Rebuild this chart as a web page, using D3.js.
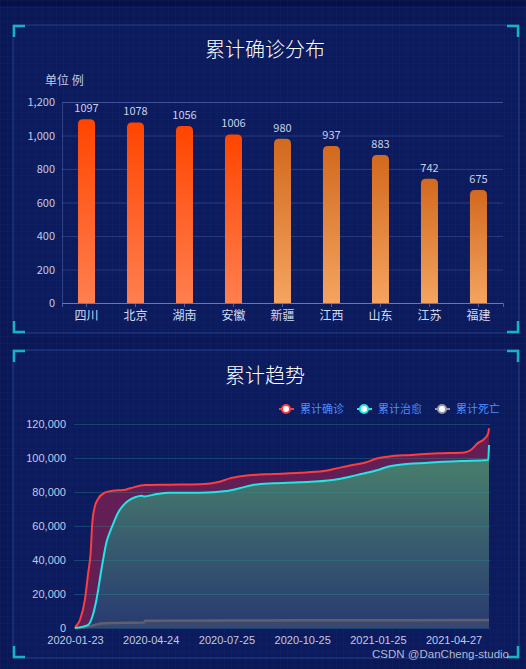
<!DOCTYPE html>
<html>
<head>
<meta charset="utf-8">
<script src="https://cdn.jsdelivr.net/npm/d3@7"></script>
<style>
  body { margin: 0; background: #0a1856; overflow: hidden; }
  svg { display: block; }
  text { font-family: "Noto Sans CJK SC", "Noto Sans", sans-serif; }
  .num text, text.num { font-family: "Liberation Sans", Arial, sans-serif; }
</style>
</head>
<body>
<svg id="canvas" width="526" height="669"></svg>
<script>
"use strict"

// bar chart data
const provinces = ["四川", "北京", "湖南", "安徽", "新疆", "江西", "山东", "江苏", "福建"]
const provinceTotals = [1097, 1078, 1056, 1006, 980, 937, 883, 742, 675]
const barTicks = [0, 200, 400, 600, 800, 1000, 1200]

// trend data
const confirmedSeries = [
  ["2020-01-23", 0], ["2020-01-24", 800], ["2020-01-29", 4700], ["2020-02-04", 16500],
  ["2020-02-08", 32400], ["2020-02-11", 44100], ["2020-02-13", 61800], ["2020-02-16", 71300],
  ["2020-02-20", 75900], ["2020-02-28", 79600], ["2020-03-09", 80800], ["2020-03-22", 81200],
  ["2020-03-30", 82200], ["2020-04-17", 84100], ["2020-05-17", 84300], ["2020-06-23", 84500],
  ["2020-07-17", 86000], ["2020-07-29", 88000], ["2020-08-14", 89400], ["2020-09-20", 90600],
  ["2020-10-22", 91300], ["2020-11-20", 92300], ["2020-12-06", 93900], ["2020-12-22", 95600],
  ["2021-01-09", 97200], ["2021-01-25", 99800], ["2021-02-06", 100800], ["2021-03-07", 101800],
  ["2021-04-08", 102800], ["2021-05-10", 103300], ["2021-05-18", 104700], ["2021-05-26", 108600],
  ["2021-06-04", 111600], ["2021-06-08", 114500], ["2021-06-09", 117500]
]
const curedSeries = [
  ["2020-01-23", 0], ["2020-02-02", 800], ["2020-02-08", 1800], ["2020-02-13", 6600],
  ["2020-02-18", 16500], ["2020-02-24", 34100], ["2020-03-01", 50000], ["2020-03-08", 59600],
  ["2020-03-16", 68400], ["2020-03-26", 74300], ["2020-04-05", 76900], ["2020-04-13", 77800],
  ["2020-04-16", 77400], ["2020-05-01", 78800], ["2020-05-17", 79600], ["2020-06-23", 79600],
  ["2020-07-25", 80600], ["2020-08-10", 82200], ["2020-08-26", 84100], ["2020-09-20", 85100],
  ["2020-10-22", 85700], ["2020-12-01", 87100], ["2020-12-22", 89000], ["2021-01-05", 90600],
  ["2021-01-25", 92900], ["2021-02-06", 94900], ["2021-02-18", 95900], ["2021-03-27", 97200],
  ["2021-05-06", 98200], ["2021-06-08", 98800], ["2021-06-09", 107600]
]
const deathSeries = [
  ["2020-01-23", 0], ["2020-02-02", 300], ["2020-02-13", 1400], ["2020-02-24", 2600],
  ["2020-03-08", 3000], ["2020-04-16", 3200], ["2020-04-17", 4300], ["2020-10-22", 4500],
  ["2021-06-09", 4700]
]
const trendTicks = [0, 20000, 40000, 60000, 80000, 100000, 120000]
const trendDateTicks = ["2020-01-23", "2020-04-24", "2020-07-25", "2020-10-25", "2021-01-25", "2021-04-27"]
const legendNames = ["累计确诊", "累计治愈", "累计死亡"]
const legendColors = ["#ff3d3d", "#20e6e6", "#9a9aa6"]

const svg = d3.select("#canvas")
const defs = svg.append("defs")

// background texture
const pat = defs.append("pattern").attr("id", "grid")
  .attr("width", 7).attr("height", 7).attr("patternUnits", "userSpaceOnUse")
pat.append("path").attr("d", "M7 0H0V7").attr("fill", "none")
  .attr("stroke", "rgba(120,150,230,0.06)").attr("stroke-width", 1)

function vgrad(id, top, bottom, units, y1, y2) {
  const g = defs.append("linearGradient").attr("id", id)
    .attr("x1", 0).attr("x2", 0).attr("y1", y1 ?? 0).attr("y2", y2 ?? 1)
  if (units) g.attr("gradientUnits", units)
  g.append("stop").attr("offset", 0).attr("stop-color", top)
  g.append("stop").attr("offset", 1).attr("stop-color", bottom)
}
vgrad("hot", "#ff4500", "#ff7f50")
vgrad("warm", "#d2691e", "#f4a460")
vgrad("curedFill", "#467a6c", "#283a70", "userSpaceOnUse", 470, 628)

svg.append("rect").attr("width", 526).attr("height", 669).attr("fill", "#0a1858")
svg.append("rect").attr("width", 526).attr("height", 6).attr("fill", "#061045")
svg.append("rect").attr("width", 526).attr("height", 669).attr("fill", "url(#grid)")

// panels with cyan corners
function panel(x0, y0, x1, y1) {
  svg.append("rect").attr("x", x0).attr("y", y0).attr("width", x1 - x0).attr("height", y1 - y0)
    .attr("fill", "rgba(20,40,120,0.22)").attr("stroke", "rgba(70,110,190,0.45)")
  const c = 11
  const corners = [
    `M${x0 + 1} ${y0 + 1 + c}V${y0 + 1}H${x0 + 1 + c}`,
    `M${x1 - 1 - c} ${y0 + 1}H${x1 - 1}V${y0 + 1 + c}`,
    `M${x0 + 1} ${y1 - 1 - c}V${y1 - 1}H${x0 + 1 + c}`,
    `M${x1 - 1 - c} ${y1 - 1}H${x1 - 1}V${y1 - 1 - c}`
  ]
  corners.forEach(d => svg.append("path").attr("d", d).attr("fill", "none")
    .attr("stroke", "#15b4c4").attr("stroke-width", 2.5))
}
panel(13, 25, 519, 333)
panel(13, 350, 519, 658)

svg.append("text").attr("x", 265).attr("y", 57).attr("text-anchor", "middle")
  .attr("fill", "#fff").attr("font-size", 20).attr("font-weight", 300).text("累计确诊分布")
svg.append("text").attr("x", 265).attr("y", 383).attr("text-anchor", "middle")
  .attr("fill", "#fff").attr("font-size", 20).attr("font-weight", 300).text("累计趋势")

// ---- bar chart ----
const x1 = d3.scaleBand().domain(provinces).range([62, 503]).paddingInner(0.653).paddingOuter(0.327)
const y1 = d3.scaleLinear().domain([0, 1200]).range([303, 102])

svg.append("text").attr("x", 45).attr("y", 85).attr("fill", "#c3cae2")
  .attr("font-size", 12).text("单位 例")

const yAxis1 = svg.append("g").attr("transform", "translate(62,0)")
  .call(d3.axisLeft(y1).tickValues(barTicks).tickFormat(d3.format(",")).tickSize(-441).tickPadding(7))
yAxis1.select(".domain").attr("stroke", "rgba(110,130,210,0.35)")
yAxis1.selectAll(".tick line").attr("stroke", "rgba(110,130,210,0.3)")
yAxis1.selectAll(".tick text").attr("fill", "#c3cae2").attr("font-size", 11)

const xAxis1 = svg.append("g").attr("transform", "translate(0,303)")
  .call(d3.axisBottom(x1).tickSize(4).tickPadding(4))
xAxis1.select(".domain").attr("stroke", "rgba(130,150,220,0.55)")
xAxis1.selectAll(".tick line").attr("stroke", "rgba(130,150,220,0.55)")
xAxis1.selectAll(".tick text").attr("fill", "#d4dbf0").attr("font-size", 12)

function topRounded(x, y, w, h, r) {
  return `M${x} ${y + h}V${y + r}Q${x} ${y} ${x + r} ${y}H${x + w - r}Q${x + w} ${y} ${x + w} ${y + r}V${y + h}Z`
}
const bars = provinces.map((p, i) => ({ name: p, value: provinceTotals[i] }))
svg.append("g").selectAll("path").data(bars).join("path")
  .attr("d", d => topRounded(x1(d.name), y1(d.value), x1.bandwidth(), y1(0) - y1(d.value), 5))
  .attr("fill", d => d.value > 1000 ? "url(#hot)" : "url(#warm)")
svg.append("g").selectAll("text").data(bars).join("text")
  .attr("x", d => x1(d.name) + x1.bandwidth() / 2)
  .attr("y", d => y1(d.value) - 7)
  .attr("text-anchor", "middle").attr("fill", "#c8d0e8").attr("font-size", 11)
  .text(d => d.value)

// ---- trend chart ----
const parse = d3.timeParse("%Y-%m-%d")
const xT = d3.scaleTime().domain([parse("2020-01-23"), parse("2021-06-09")]).range([75, 489])
const yT = d3.scaleLinear().domain([0, 120000]).range([628, 424])

const toPts = s => s.map(([d, v]) => ({ date: parse(d), value: v }))
const confirmed = toPts(confirmedSeries)
const cured = toPts(curedSeries)
const death = toPts(deathSeries)

const area = d3.area().curve(d3.curveMonotoneX)
  .x(d => xT(d.date)).y0(yT(0)).y1(d => yT(d.value))
const line = d3.line().curve(d3.curveMonotoneX)
  .x(d => xT(d.date)).y(d => yT(d.value))

svg.append("path").datum(confirmed).attr("d", area).attr("fill", "rgba(205,35,75,0.45)")
svg.append("path").datum(cured).attr("d", area).attr("fill", "url(#curedFill)")
svg.append("path").datum(death).attr("d", area).attr("fill", "rgba(90,95,115,0.35)")

const yAxis2 = svg.append("g").attr("class", "num").attr("transform", "translate(74,0)")
  .call(d3.axisLeft(yT).tickValues(trendTicks).tickFormat(d3.format(",")).tickSize(-416).tickPadding(8))
yAxis2.select(".domain").remove()
yAxis2.selectAll(".tick line").attr("stroke", "rgba(45,140,150,0.35)")
yAxis2.selectAll(".tick text").attr("fill", "#c3cae2").attr("font-size", 11)

const xAxis2 = svg.append("g").attr("class", "num").attr("transform", "translate(0,628)")
  .call(d3.axisBottom(xT).tickValues(trendDateTicks.map(parse))
    .tickFormat(d3.timeFormat("%Y-%m-%d")).tickSize(0).tickPadding(8.5))
xAxis2.select(".domain").remove()
xAxis2.selectAll(".tick text").attr("fill", "#c3cae2").attr("font-size", 11)

svg.append("path").datum(death).attr("d", line).attr("fill", "none")
  .attr("stroke", "#5e606e").attr("stroke-width", 2.5)
svg.append("path").datum(confirmed).attr("d", line).attr("fill", "none")
  .attr("stroke", legendColors[0]).attr("stroke-width", 2)
svg.append("path").datum(cured).attr("d", line).attr("fill", "none")
  .attr("stroke", legendColors[1]).attr("stroke-width", 2)

// legend
const legendX = [286, 364, 442]
const legend = svg.append("g").selectAll("g").data(legendNames).join("g")
  .attr("transform", (d, i) => `translate(${legendX[i]},409)`)
legend.append("line").attr("x1", -7).attr("x2", 8)
  .attr("stroke", (d, i) => legendColors[i]).attr("stroke-width", 2)
legend.append("circle").attr("r", 4).attr("fill", "#fff")
  .attr("stroke", (d, i) => legendColors[i]).attr("stroke-width", 2)
legend.append("text").attr("x", 14).attr("y", 4).attr("fill", "#4d8dff")
  .attr("font-size", 11).text(d => d)

svg.append("text").attr("class", "num").attr("x", 509).attr("y", 658).attr("text-anchor", "end")
  .attr("fill", "rgba(215,215,225,0.85)").attr("font-size", 11.5).text("CSDN @DanCheng-studio")
</script>
</body>
</html>
